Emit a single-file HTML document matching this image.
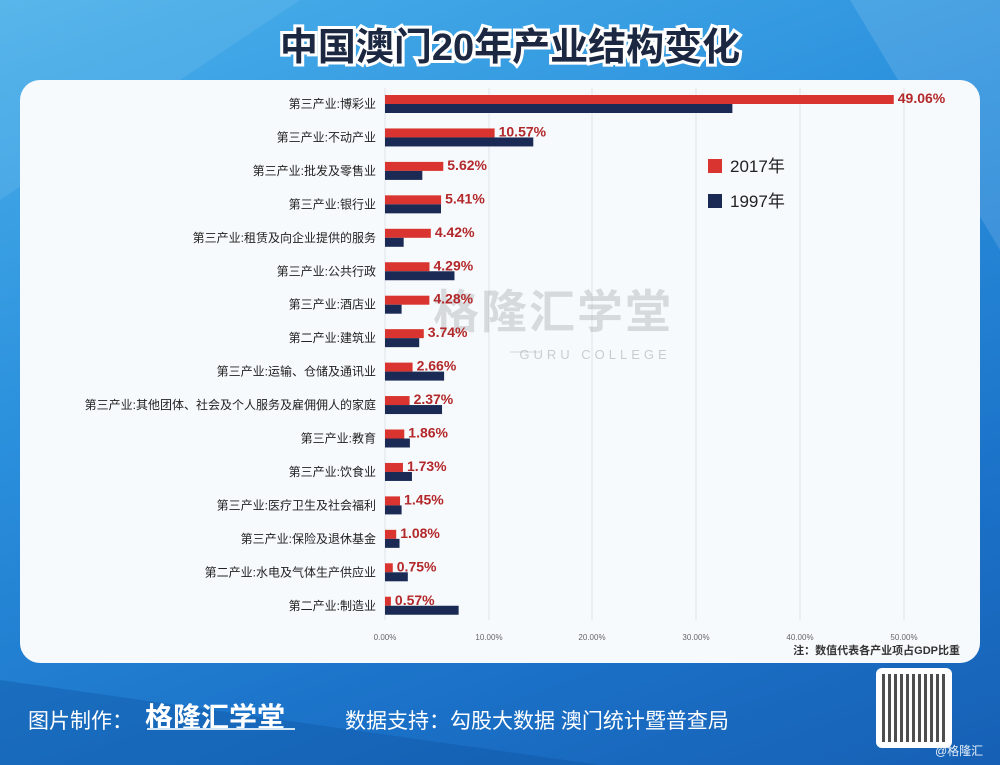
<!DOCTYPE html>
<html><head><meta charset="utf-8"><style>
html,body{margin:0;padding:0;width:1000px;height:765px;overflow:hidden}
body{background:linear-gradient(160deg,#4ab0ea 0%,#2a8fdc 40%,#1b72c8 75%,#1660b5 100%);font-family:"Liberation Sans","Noto Sans CJK SC",sans-serif}
</style></head><body>
<svg width="1000" height="765" xmlns="http://www.w3.org/2000/svg" style="position:absolute;left:0;top:0">
<polygon points="0,0 300,0 0,200" fill="#ffffff" opacity="0.08"/>
<polygon points="850,0 1000,0 1000,250" fill="#ffffff" opacity="0.12"/>
<polygon points="0,680 600,765 0,765" fill="#0d4f9e" opacity="0.35"/>
<text x="510" y="60" text-anchor="middle" font-size="38" font-weight="bold" fill="#1c2741" stroke="#ffffff" stroke-width="6" paint-order="stroke" font-family="Liberation Sans,Noto Sans CJK SC,sans-serif">中国澳门20年产业结构变化</text>
<rect x="20" y="80" width="960" height="583" rx="20" fill="#f7fafc"/>
<g stroke="#dfe3e8" stroke-width="1">
<line x1="385" y1="88" x2="385" y2="620"/><line x1="489" y1="88" x2="489" y2="620"/><line x1="592" y1="88" x2="592" y2="620"/><line x1="696" y1="88" x2="696" y2="620"/><line x1="800" y1="88" x2="800" y2="620"/><line x1="904" y1="88" x2="904" y2="620"/>
</g>
<g font-size="8" fill="#666" text-anchor="middle">
<text x="385" y="640">0.00%</text><text x="489" y="640">10.00%</text><text x="592" y="640">20.00%</text><text x="696" y="640">30.00%</text><text x="800" y="640">40.00%</text><text x="904" y="640">50.00%</text>
</g>
<text x="960" y="654" text-anchor="end" font-size="11" font-weight="bold" fill="#333">注：数值代表各产业项占GDP比重</text>
<text x="553" y="328" text-anchor="middle" font-size="46" font-weight="bold" fill="#9aa0a6" opacity="0.35" letter-spacing="2">格隆汇学堂</text>
<text x="595" y="359" text-anchor="middle" font-size="13" fill="#9aa0a6" opacity="0.5" letter-spacing="4">GURU COLLEGE</text>
<line x1="510" y1="352" x2="540" y2="352" stroke="#9aa0a6" opacity="0.4"/>
<rect x="708" y="159" width="14" height="14" fill="#d9342f"/><text x="730" y="172" font-size="17" fill="#222">2017年</text>
<rect x="708" y="194" width="14" height="14" fill="#1a2a55"/><text x="730" y="207" font-size="17" fill="#222">1997年</text>
<g id="rows" font-size="12" fill="#222"></g>
</svg>
<div style="position:absolute;left:28px;top:705px;color:#fff;font-size:21px">图片制作：</div>
<div style="position:absolute;left:145px;top:696px;color:#fff;font-size:28px;font-weight:bold">格隆汇学堂</div>
<div style="position:absolute;left:147px;top:728px;width:148px;height:2px;background:#cfe3f5"></div>
<div style="position:absolute;left:345px;top:705px;color:#fff;font-size:21px">数据支持：勾股大数据  澳门统计暨普查局</div>
<div style="position:absolute;left:876px;top:668px;width:76px;height:80px;background:#fff;border-radius:6px"><div style="margin:6px;width:64px;height:68px;background:repeating-linear-gradient(90deg,#222 0 3px,#fff 3px 6px),#222;opacity:.8"></div></div>
<div style="position:absolute;left:935px;top:742px;color:#e8f0f8;font-size:12px">@格隆汇</div>
<script>
var d=[["第三产业:博彩业",49.06,33.5],["第三产业:不动产业",10.57,14.3],["第三产业:批发及零售业",5.62,3.6],["第三产业:银行业",5.41,5.4],["第三产业:租赁及向企业提供的服务",4.42,1.8],["第三产业:公共行政",4.29,6.7],["第三产业:酒店业",4.28,1.6],["第二产业:建筑业",3.74,3.3],["第三产业:运输、仓储及通讯业",2.66,5.7],["第三产业:其他团体、社会及个人服务及雇佣佣人的家庭",2.37,5.5],["第三产业:教育",1.86,2.4],["第三产业:饮食业",1.73,2.6],["第三产业:医疗卫生及社会福利",1.45,1.6],["第三产业:保险及退休基金",1.08,1.4],["第二产业:水电及气体生产供应业",0.75,2.2],["第二产业:制造业",0.57,7.1]];
var s="",k=10.37;
d.forEach(function(r,i){var c=104+i*33.45;var a=r[1]*k,b=r[2]*k;
s+='<text x="376" y="'+(c+4)+'" text-anchor="end">'+r[0]+'</text>';
s+='<rect x="385" y="'+(c-9)+'" width="'+a+'" height="9" fill="#d9342f"/>';
s+='<rect x="385" y="'+c+'" width="'+b+'" height="9" fill="#1a2a55"/>';
s+='<text x="'+(385+a+4)+'" y="'+(c-1)+'" font-size="14" font-weight="bold" fill="#b3282a">'+r[1].toFixed(2)+'%</text>';});
document.getElementById("rows").innerHTML=s;
</script>
</body></html>
